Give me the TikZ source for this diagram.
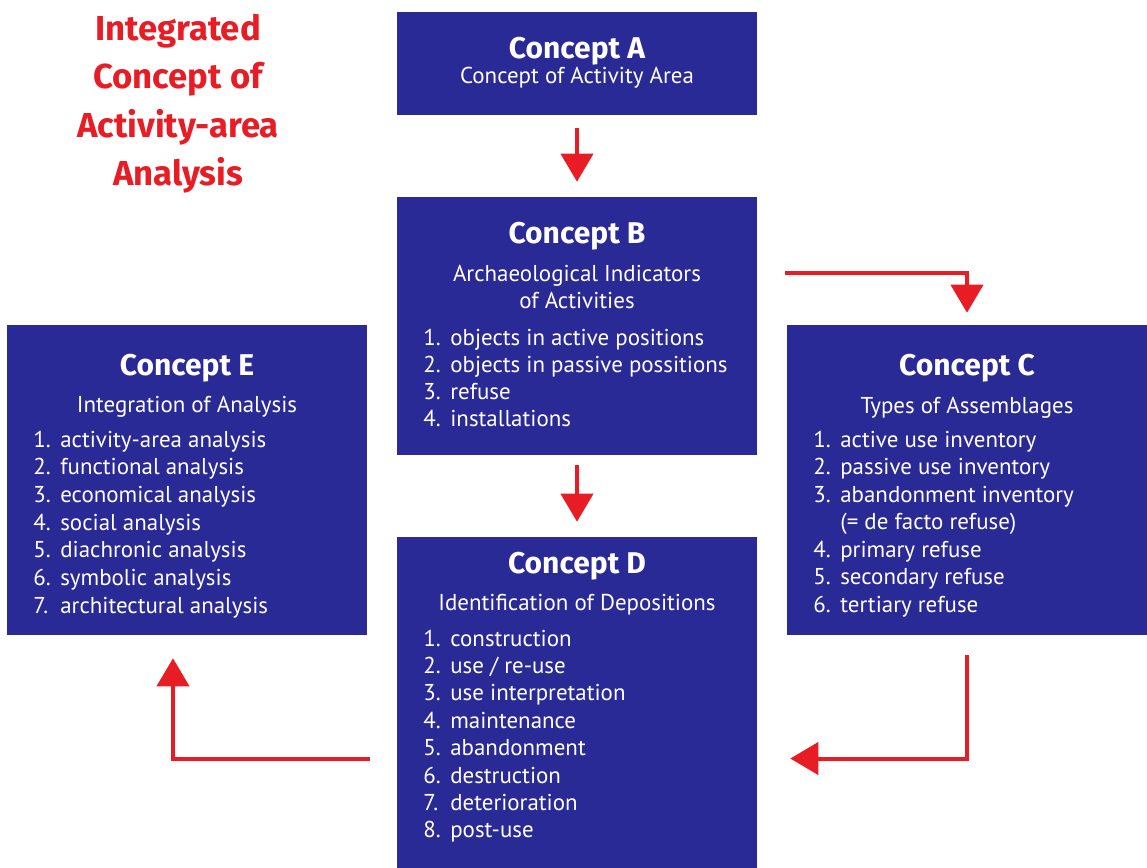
\documentclass[tikz,border=0pt]{standalone}
\usepackage{fontspec}
\setmainfont{PT Sans}
\newfontfamily\headfont{Fira Sans}
\usetikzlibrary{arrows.meta,calc}
\definecolor{boxblue}{RGB}{42,42,150}
\definecolor{flowred}{RGB}{232,28,36}
\newcommand{\itm}[2]{\makebox[20.3pt][l]{#1}#2}

\begin{document}
\begin{tikzpicture}[x=0.75pt,y=0.75pt,yscale=-1,xscale=1,
  conceptbox/.style={fill=boxblue,draw=none,inner sep=0pt,minimum width=270pt},
  headtext/.style={text=white,inner sep=0pt,anchor=base,font=\headfont\fontsize{22.5}{24}\selectfont\bfseries},
  subtext/.style={text=white,inner sep=0pt,anchor=base,font=\fontsize{17.2}{20.5}\selectfont},
  itemtext/.style={text=white,inner sep=0pt,anchor=base west,font=\fontsize{17.2}{20.5}\selectfont},
  flow/.style={draw=flowred,line width=3pt,-{Triangle[length=21pt,width=24pt]}}]
\useasboundingbox (0,0) rectangle (1147,868);

%Shape: Rectangle [id:conceptA]
\node[conceptbox,minimum height=77.25pt] (A) at (577,63.5) {};
%Shape: Rectangle [id:conceptB]
\node[conceptbox,minimum height=193.5pt] (B) at (577,326) {};
%Shape: Rectangle [id:conceptC]
\node[conceptbox,minimum height=232.5pt] (C) at (967,480) {};
%Shape: Rectangle [id:conceptD]
\node[conceptbox,minimum height=248.25pt] (D) at (577,702.5) {};
%Shape: Rectangle [id:conceptE]
\node[conceptbox,minimum height=232.5pt] (E) at (187,480) {};

% Title
\node[text=flowred,inner sep=0pt,anchor=north,align=center,
  font=\headfont\fontsize{26}{36.2}\selectfont\bfseries] (title) at (178,14)
  {Integrated\\Concept of\\Activity-area\\Analysis};

% Text Node A
\node[headtext] (headA) at (577,58) {Concept A};
\node[subtext] (subA) at (577,83) {Concept of Activity Area};

% Text Node B
\node[headtext] (headB) at (577,243) {Concept B};
\node[subtext] (subB1) at (577,281) {Archaeological Indicators};
\node[subtext] (subB2) at (577,308) {of Activities};
\foreach \t [count=\i] in {objects in active positions, objects in passive possitions, refuse, installations}
  \node[itemtext] (itemB\i) at (423,{345+27.3*(\i-1)}) {\itm{\i.}{\t}};

% Text Node C
\node[headtext] (headC) at (967,375) {Concept C};
\node[subtext] (subC) at (967,413) {Types of Assemblages};
\foreach \n/\t [count=\i] in {1./active use inventory, 2./passive use inventory, 3./abandonment inventory, /{(= de facto refuse)}, 4./primary refuse, 5./secondary refuse, 6./tertiary refuse}
  \node[itemtext] (itemC\i) at (813,{447+27.5*(\i-1)}) {\itm{\n}{\t}};

% Text Node D
\node[headtext] (headD) at (577,573) {Concept D};
\node[subtext] (subD) at (577,610) {Identification of Depositions};
\foreach \t [count=\i] in {construction, {use / re-use}, use interpretation, maintenance, abandonment, destruction, deterioration, post-use}
  \node[itemtext] (itemD\i) at (423,{646+27.4*(\i-1)}) {\itm{\i.}{\t}};

% Text Node E
\node[headtext] (headE) at (187,375) {Concept E};
\node[subtext] (subE) at (187,412) {Integration of Analysis};
\foreach \t [count=\i] in {activity-area analysis, functional analysis, economical analysis, social analysis, diachronic analysis, symbolic analysis, architectural analysis}
  \node[itemtext] (itemE\i) at (33,{447+27.7*(\i-1)}) {\itm{\i.}{\t}};

% Arrows
\draw[flow] ($(A.south)+(0,13)$) -- ($(B.north)+(0,-15)$);
\draw[flow] ($(B.south)+(0,10)$) -- ($(D.north)+(0,-15)$);
\draw[flow] ($(B.east)+(28,-53)$) -| ($(C.north)+(0,-12)$);
\draw[flow] ($(C.south)+(0,20)$) |- ($(D.east)+(33,56)$);
\draw[flow] ($(D.west)+(-27,56)$) -| ($(E.south)+(-14,23)$);

\end{tikzpicture}
\end{document}
